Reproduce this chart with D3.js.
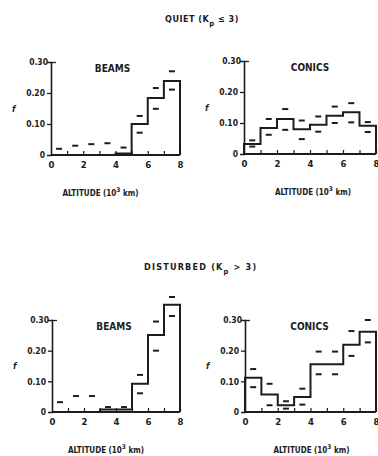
<!DOCTYPE html>
<html>
<head>
<meta charset="utf-8">
<script src="https://cdn.jsdelivr.net/npm/d3@7"></script>
<style>
  html, body { margin: 0; padding: 0; background: #fff; }
  svg text { font-family: "DejaVu Sans Condensed", "DejaVu Sans", sans-serif; font-weight: bold; fill: #1c1c1c; }
</style>
</head>
<body>
<svg id="chart" width="378" height="456"></svg>
<script>
// Altitude bins (10^3 km), one per 1000 km from 0 to 8
const bins = [0, 1, 2, 3, 4, 5, 6, 7];
const xTicks = [0, 2, 4, 6, 8];
const yTicks = [0, 0.10, 0.20, 0.30];

// Quiet (Kp <= 3), beams
const quietBeams      = [0, 0, 0, 0, 0.005, 0.100, 0.184, 0.239];
const quietBeamsHi    = [0.020, 0.030, 0.035, 0.038, 0.024, 0.126, 0.216, 0.270];
const quietBeamsLo    = [null, null, null, null, null, 0.072, 0.149, 0.211];

// Quiet (Kp <= 3), conics
const quietConics     = [0.032, 0.084, 0.113, 0.080, 0.094, 0.123, 0.135, 0.091];
const quietConicsHi   = [0.044, 0.113, 0.145, 0.108, 0.121, 0.153, 0.164, 0.103];
const quietConicsLo   = [0.024, 0.062, 0.078, 0.048, 0.072, 0.100, 0.102, 0.071];

// Disturbed (Kp > 3), beams
const distBeams       = [0, 0, 0, 0.008, 0.008, 0.092, 0.251, 0.350];
const distBeamsHi     = [0.032, 0.052, 0.052, 0.016, 0.016, 0.121, 0.295, 0.375];
const distBeamsLo     = [null, null, null, null, null, 0.061, 0.200, 0.313];

// Disturbed (Kp > 3), conics
const distConics      = [0.112, 0.057, 0.022, 0.049, 0.156, 0.156, 0.219, 0.262];
const distConicsHi    = [0.140, 0.092, 0.035, 0.076, 0.197, 0.197, 0.264, 0.300];
const distConicsLo    = [0.081, 0.022, 0.011, 0.024, 0.123, 0.123, 0.183, 0.227];

const ink = "#1c1c1c";
const svg = d3.select("#chart");

// Section headers
function header(x, y, spacing, before, sub, after) {
  const t = svg.append("text").attr("x", x).attr("y", y).attr("font-size", 9)
    .attr("letter-spacing", spacing);
  t.append("tspan").text(before);
  t.append("tspan").attr("dy", 4).attr("font-size", 7.5).text(sub);
  t.append("tspan").attr("dy", -4).text(after);
}
header(165, 22, 0.5, "QUIET (K", "p", " \u2264 3)");
header(144, 270, 1.2, "DISTURBED (K", "p", " > 3)");

const panels = [
  { title: "BEAMS",  f: quietBeams,  hi: quietBeamsHi,  lo: quietBeamsLo,  x0: 51,  x1: 180, y0: 155, y1: 62,  tdx: -3, ldx: -15 },
  { title: "CONICS", f: quietConics, hi: quietConicsHi, lo: quietConicsLo, x0: 244, x1: 376, y0: 154, y1: 61,  tdx: 0,  ldx: 3 },
  { title: "BEAMS",  f: distBeams,   hi: distBeamsHi,   lo: distBeamsLo,   x0: 52,  x1: 180, y0: 412, y1: 320, tdx: -2, ldx: -10 },
  { title: "CONICS", f: distConics,  hi: distConicsHi,  lo: distConicsLo,  x0: 245, x1: 376, y0: 412, y1: 320, tdx: -1, ldx: 1 }
];

panels.forEach(p => {
  const x = d3.scaleLinear().domain([0, 8]).range([p.x0, p.x1]);
  const y = d3.scaleLinear().domain([0, 0.30]).range([p.y0, p.y1]);
  const g = svg.append("g");

  // y axis with left ticks; the top tick turns right into the frame corner
  const yAx = g.append("g").attr("transform", `translate(${p.x0},0)`)
    .call(d3.axisLeft(y).tickValues(yTicks).tickSize(4).tickPadding(2)
      .tickFormat(d => d === 0 ? "0" : d3.format(".2f")(d)));
  yAx.select(".domain").attr("stroke", ink).attr("stroke-width", 1.6);
  yAx.selectAll(".tick line").attr("stroke", ink).attr("stroke-width", 1.3)
    .attr("x2", d => d === 0.30 ? 5 : (d === 0 ? 0 : -4));
  yAx.selectAll(".tick text").attr("font-size", 8.5).attr("fill", ink)
    .attr("x", d => d === 0.30 ? -3 : -6);

  // x axis baseline with inner ticks at each 1000 km
  const xIn = g.append("g").attr("transform", `translate(0,${p.y0})`)
    .call(d3.axisTop(x).tickValues(d3.range(1, 9)).tickSize(4).tickFormat(""));
  xIn.select(".domain").remove();
  xIn.selectAll(".tick line").attr("stroke", ink).attr("stroke-width", 1.2);
  g.append("line").attr("x1", x(0)).attr("x2", x(8)).attr("y1", p.y0).attr("y2", p.y0)
    .attr("stroke", ink).attr("stroke-width", 1.8);

  const xAx = g.append("g").attr("transform", `translate(0,${p.y0})`)
    .call(d3.axisBottom(x).tickValues(xTicks).tickSize(0).tickPadding(6));
  xAx.select(".domain").remove();
  xAx.selectAll(".tick text").attr("font-size", 9.5).attr("fill", ink);

  // histogram outline
  const pts = [];
  bins.forEach((b, i) => {
    pts.push([x(b), y(p.f[i])]);
    pts.push([x(b + 1), y(p.f[i])]);
  });
  pts.push([x(8), y(0)]);
  const start = p.f[0] > 0 ? [[x(0), y(0)]] : [];
  g.append("path")
    .attr("d", d3.line()(start.concat(pts)))
    .attr("fill", "none").attr("stroke", ink).attr("stroke-width", 2)
    .attr("stroke-linejoin", "miter");

  // uncertainty marks above and below each bin
  const marks = [];
  bins.forEach((b, i) => {
    if (p.hi[i] != null) marks.push([b + 0.5, p.hi[i]]);
    if (p.lo[i] != null) marks.push([b + 0.5, p.lo[i]]);
  });
  g.selectAll(".mk").data(marks).enter().append("line")
    .attr("x1", d => x(d[0]) - 3).attr("x2", d => x(d[0]) + 3)
    .attr("y1", d => y(d[1])).attr("y2", d => y(d[1]))
    .attr("stroke", ink).attr("stroke-width", 2);

  // panel title
  g.append("text").attr("x", (p.x0 + p.x1) / 2 + p.tdx).attr("y", p.y1 + 10)
    .attr("text-anchor", "middle").attr("font-size", 10).text(p.title);

  // y label
  g.append("text").attr("x", p.x0 - 39).attr("y", (p.y0 + p.y1) / 2 + 3)
    .attr("font-size", 9).attr("font-style", "italic").text("f");

  // x label
  const xl = g.append("text").attr("x", (p.x0 + p.x1) / 2 + p.ldx).attr("y", p.y0 + 41)
    .attr("text-anchor", "middle").attr("font-size", 8);
  xl.append("tspan").text("ALTITUDE (10");
  xl.append("tspan").attr("dy", -4).attr("font-size", 6.5).text("3");
  xl.append("tspan").attr("dy", 4).text(" km)");
});
</script>
</body>
</html>
